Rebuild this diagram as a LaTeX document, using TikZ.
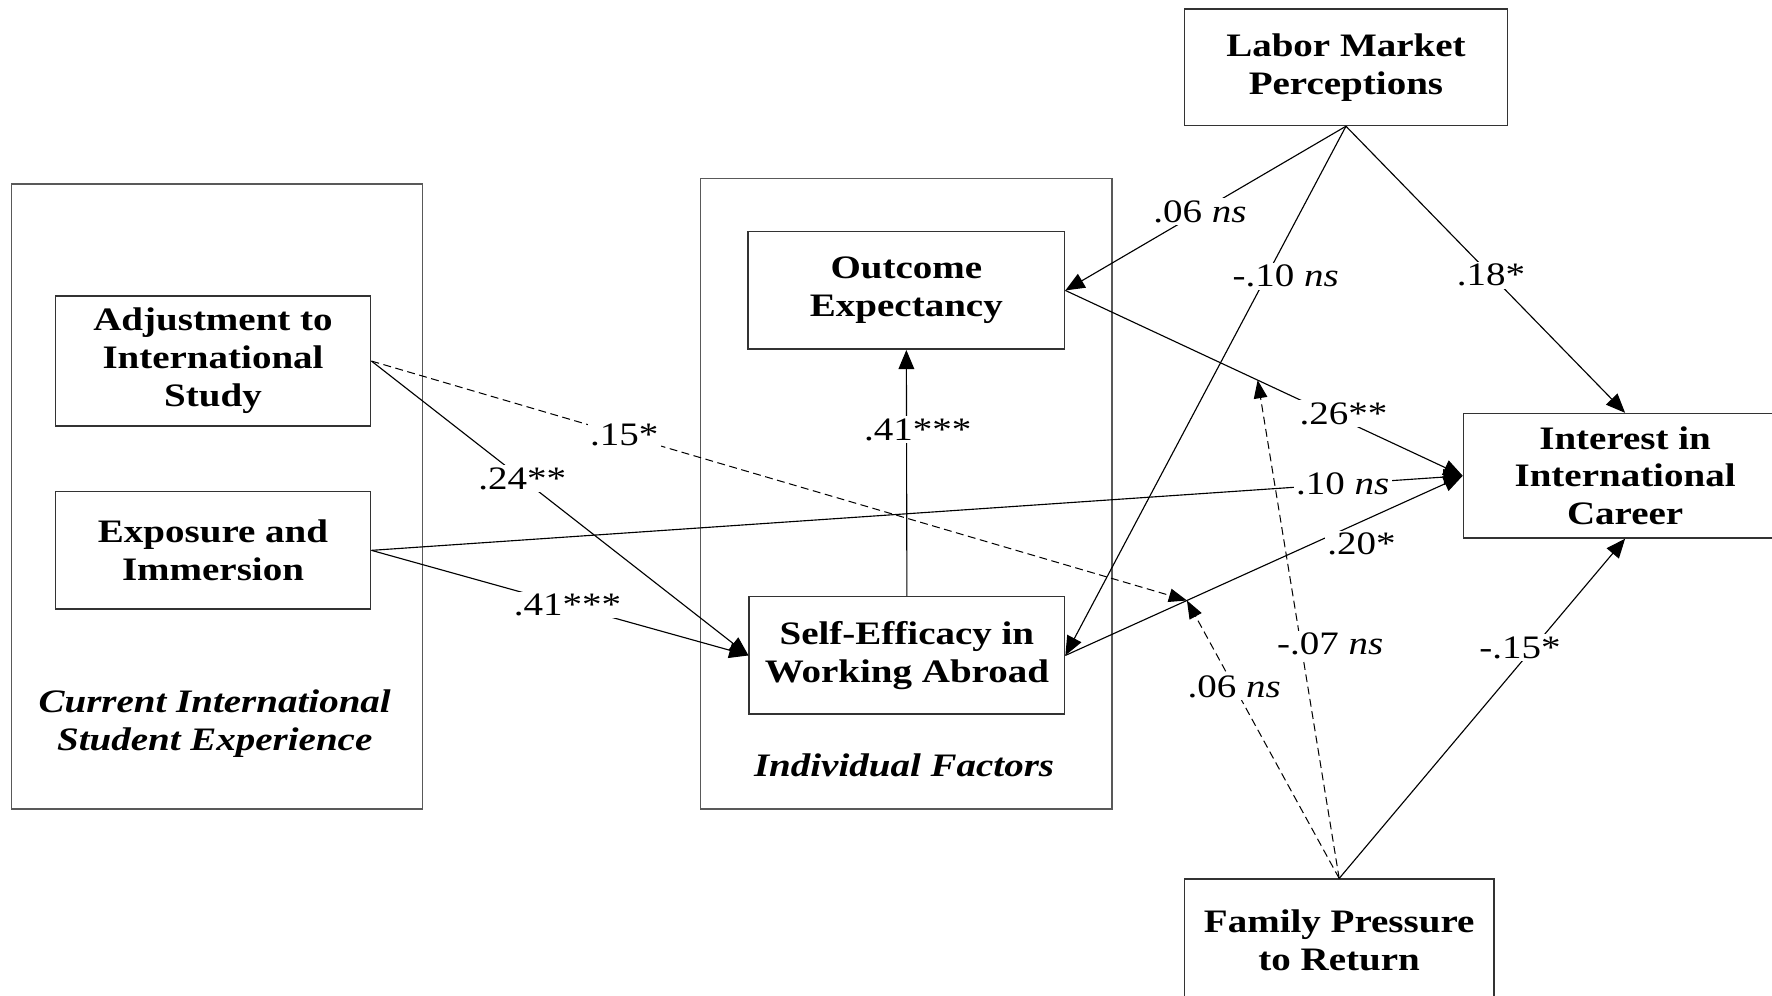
\documentclass[tikz,border=0pt]{standalone}
\usepackage{fontspec}
\setmainfont[FakeStretch=1.19]{Liberation Serif}
\usetikzlibrary{arrows.meta,calc}
\begin{document}
\begin{tikzpicture}[x=0.5pt,y=-0.5pt,
  box/.style={draw=black!80, line width=0.7pt, rectangle, inner sep=0pt, align=center,
    font=\fontsize{14.5}{16.8}\selectfont\bfseries},
  grp/.style={draw=black!65, line width=0.7pt, rectangle, inner sep=0pt},
  ttl/.style={align=center, inner sep=0pt, font=\fontsize{14.5}{16.8}\selectfont\bfseries\itshape},
  arr/.style={line width=0.5pt, -{Triangle[length=8.5pt,width=7pt]}},
  darr/.style={line width=0.45pt, dash pattern=on 3.5pt off 2pt, -{Triangle[length=8pt,width=6pt]}},
  lbl/.style={fill=white, inner sep=1pt, font=\fontsize{14.5}{16.8}\selectfont}
]
\useasboundingbox (0,0) rectangle (1568,881.3);

% group frames
\node[grp, minimum width=182pt, minimum height=276.5pt] (g1) at (192,439.5) {};
\node[grp, minimum width=182pt, minimum height=279pt] (g2) at (802,437) {};
\node[ttl] (t1) at (190,640) {Current International\\Student Experience};
\node[ttl] (t2) at (800,677) {Individual Factors};

% boxes
\node[box, minimum width=139.5pt, minimum height=57.5pt] (adj) at (188.5,319.5) {Adjustment to\\International\\Study};
\node[box, minimum width=139.5pt, minimum height=52pt] (exp) at (188.5,487) {Exposure and\\Immersion};
\node[box, minimum width=140pt, minimum height=52pt] (oe) at (802,257) {Outcome\\Expectancy};
\node[box, minimum width=139.5pt, minimum height=52pt] (se) at (802.5,580) {Self-Efficacy in\\Working Abroad};
\node[box, minimum width=143pt, minimum height=51.5pt] (lab) at (1191,59.5) {Labor Market\\Perceptions};
\node[box, minimum width=143pt, minimum height=55pt] (int) at (1438,421) {Interest in\\International\\Career};
\node[box, minimum width=137pt, minimum height=54pt] (fam) at (1185,832) {Family Pressure\\to Return};

% moderation points
\coordinate (m1) at ($(se.east)!0.306!(int.west)$);
\coordinate (m2) at ($(oe.east)!0.484!(int.west)$);

% connectors
\draw[arr] (adj.east) -- node[lbl,pos=0.4]{.24**} (se.west);
\draw[arr] (exp.east) -- node[lbl,pos=0.52]{.41***} (se.west);
\draw[darr] (adj.east) -- node[lbl,pos=0.31]{.15*} (m1);
\draw[arr] (exp.east) -- node[lbl,pos=0.89]{.10 \textit{ns}} (int.west);
\draw[arr] (se.north) -- node[lbl,pos=0.676,xshift=5pt]{.41***} (oe.south);
\draw[arr] (oe.east) -- node[lbl,pos=0.7,yshift=3pt]{.26**} (int.west);
\draw[arr] (se.east) -- node[lbl,pos=0.745,yshift=-10pt]{.20*} (int.west);
\draw[arr] (lab.south) -- node[lbl,pos=0.52]{.06 \textit{ns}} (oe.east);
\draw[arr] (lab.south) -- node[lbl,pos=0.2835,xshift=8.5pt]{-.10 \textit{ns}} (se.east);
\draw[arr] (lab.south) -- node[lbl,pos=0.52]{.18*} (int.north);
\draw[arr] (fam.north) -- node[lbl,pos=0.68,xshift=-6pt]{-.15*} (int.south);
\draw[darr] (fam.north) -- node[lbl,pos=0.69]{.06 \textit{ns}} (m1);
\draw[darr] (fam.north) -- node[lbl,pos=0.47,xshift=13pt]{-.07 \textit{ns}} (m2);
\end{tikzpicture}
\end{document}
